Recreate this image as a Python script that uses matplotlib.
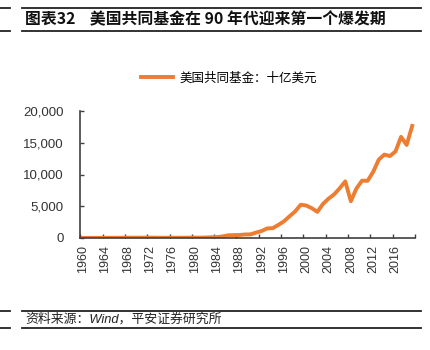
import numpy as np
import matplotlib.pyplot as plt
from matplotlib.lines import Line2D
from matplotlib.ticker import FuncFormatter

# Data (billions of USD), one value per year
years = list(range(1960, 2020))
assets = [17, 20, 22, 25, 29, 35, 35, 42, 50, 48, 48, 50, 55, 45, 35, 42, 45, 45, 45, 50,
          58, 55, 77, 113, 137, 252, 424, 453, 472, 554, 568, 853, 1100, 1510, 1550, 2058,
          2624, 3409, 4173, 5233, 5119, 4689, 4119, 5362, 6194, 6864, 7829, 8916, 5788, 7797,
          9027, 9007, 10418, 12330, 13137, 12904, 13623, 15926, 14659, 17652]
label_years = years[::4]
y_ticks = [0, 5000, 10000, 15000, 20000]

title = "图表32    美国共同基金在 90 年代迎来第一个爆发期"
legend_label = "美国共同基金：十亿美元"
source = "资料来源：Wind，平安证券研究所"

plt.rcParams['font.family'] = ['Liberation Sans', 'Noto Sans CJK SC', 'DejaVu Sans']

W, H = 430, 350
fig = plt.figure(figsize=(W / 100, H / 100), dpi=100)
ax = fig.add_axes([80.3 / W, 1 - 238 / H, (415 - 80.3) / W, (238 - 111) / H])

x = np.arange(len(years))
line, = ax.plot(x, assets, color='#ED7D31', lw=2.8, solid_joinstyle='round')

ax.set_xlim(-0.5, len(years) - 0.5)
ax.set_ylim(0, 20000)
ax.set_yticks(y_ticks)
ax.yaxis.set_major_formatter(FuncFormatter(lambda v, p: f"{int(v):,}"))

# ticks at category boundaries, labels at category centres
ax.set_xticks(np.arange(-0.5, len(years), 4))
ax.set_xticklabels([])
ax.set_xticks([years.index(yr) for yr in label_years], minor=True)
ax.set_xticklabels([str(yr) for yr in label_years], minor=True, rotation=90)
ax.tick_params(axis='x', which='major', direction='in', length=3, width=1, color='#404040')
ax.tick_params(axis='x', which='minor', length=0, pad=5, labelsize=9, labelcolor='#333333')
ax.tick_params(axis='y', direction='in', length=3, width=1, color='#404040',
               labelsize=9.5, labelcolor='#333333', pad=12)

for s in ['top', 'right']:
    ax.spines[s].set_visible(False)
for s in ['left', 'bottom']:
    ax.spines[s].set_color('#404040')
    ax.spines[s].set_linewidth(1.2)

fig.legend([line], [legend_label], loc='center', bbox_to_anchor=(229 / W, 1 - 78 / H),
           frameon=False, handlelength=2.6, handletextpad=0.5,
           prop={'family': ['Noto Sans CJK SC'], 'size': 9})

# header and footer rules
def hline(y, x0, x1, lw=1.3):
    fig.add_artist(Line2D([x0 / W, x1 / W], [1 - y / H, 1 - y / H], transform=fig.transFigure,
                          color='#222222', lw=lw))

for yy in [8, 31, 311, 328]:
    hline(yy, 22, 421)
    hline(yy, 0, 10)

fig.text(25 / W, 1 - 19 / H, title, fontsize=11.4, fontweight='bold', va='center', ha='left',
         family=['Noto Sans CJK SC', 'DejaVu Sans'], color='#111111')
fig.text(25 / W, 1 - 319.5 / H, source, fontsize=9.3, va='center', ha='left', style='italic',
         family=['Liberation Sans', 'Noto Sans CJK SC'], color='#222222')

fig.savefig('out.png', dpi=100)
